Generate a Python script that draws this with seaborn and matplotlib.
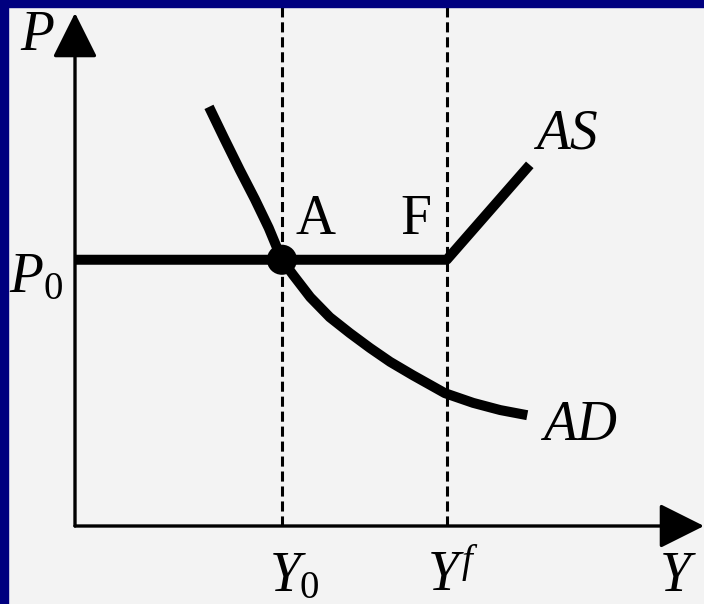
import numpy as np
import pandas as pd
import matplotlib
matplotlib.use("Agg")
import matplotlib.pyplot as plt
import seaborn as sns
from matplotlib.patches import Rectangle

# values (Y on 0..10, P on 0..10)
y0 = 3.29
yf = 5.91
p0 = 5.19

# aggregate demand curve
ad_y = [2.13, 2.37, 2.62, 2.86, 3.08, 3.29, 3.47, 3.74, 4.05, 4.37,
        4.69, 5.01, 5.37, 5.88, 6.33, 6.76, 7.19]
ad_p = [8.17, 7.56, 6.94, 6.37, 5.81, 5.19, 4.89, 4.46, 4.07, 3.76,
        3.47, 3.20, 2.94, 2.59, 2.40, 2.26, 2.16]

# aggregate supply: flat at P0 up to Yf, then rising
as_y = [0.0, yf, 7.23]
as_p = [p0, p0, 7.04]

ad = pd.DataFrame({"Y": ad_y, "P": ad_p})
as_df = pd.DataFrame({"Y": as_y, "P": as_p})
eq = pd.DataFrame({"Y": [y0], "P": [p0]})

sns.set_theme(style="white")
plt.rcParams["font.family"] = ["Liberation Serif", "DejaVu Serif"]
plt.rcParams["mathtext.fontset"] = "custom"
plt.rcParams["mathtext.rm"] = "Liberation Serif"
plt.rcParams["mathtext.it"] = "Liberation Serif:italic"
plt.rcParams["text.color"] = "black"

bg = "#f3f3f3"
fig = plt.figure(figsize=(7.04, 6.04), dpi=100, facecolor=bg)
ax = fig.add_axes([75 / 704, 78 / 604, 629 / 704, 513 / 604])
ax.set_facecolor(bg)
ax.set_xlim(0, 10)
ax.set_ylim(0, 10)
ax.axis("off")

# dashed guides at Y0 and Yf
ax.vlines([y0, yf], 0, 10.12, colors="black", lw=2.2,
          linestyles=[(0, (3.3, 1.6))], clip_on=False, zorder=1)

# axes with arrow heads
arrow = dict(arrowstyle="-|>,head_length=0.4,head_width=0.2", mutation_scale=70,
             lw=2.4, color="black", shrinkA=0, shrinkB=0)
ax.annotate("", xy=(10, 0), xytext=(0, 0), arrowprops=arrow, annotation_clip=False)
ax.annotate("", xy=(0, 10), xytext=(0, 0), arrowprops=arrow, annotation_clip=False)

sns.lineplot(data=as_df, x="Y", y="P", sort=False, color="black", lw=7.2,
             solid_capstyle="butt", ax=ax, zorder=3)
sns.lineplot(data=ad, x="Y", y="P", sort=False, color="black", lw=7.2,
             solid_capstyle="butt", solid_joinstyle="round", ax=ax, zorder=3)
sns.scatterplot(data=eq, x="Y", y="P", color="black", s=470, edgecolor="none",
                ax=ax, zorder=4)
ax.set_xlabel("")
ax.set_ylabel("")

fs = 40
ax.text(-0.60, 9.55, "P", style="italic", fontsize=fs, ha="center", va="center")
ax.text(-0.62, p0 - 0.35, "$P_0$", fontsize=fs, ha="center", va="center")
ax.text(y0 + 0.54, p0 + 0.77, "A", fontsize=fs, ha="center", va="center")
ax.text(yf - 0.49, p0 + 0.77, "F", fontsize=fs, ha="center", va="center")
ax.text(7.82, 7.64, "AS", style="italic", fontsize=fs, ha="center", va="center")
ax.text(8.03, 1.95, "AD", style="italic", fontsize=fs, ha="center", va="center")
ax.text(y0 + 0.2, -1.27, "$Y_0$", fontsize=fs, ha="center", va="baseline")
ax.text(yf + 0.1, -1.27, "$Y^f$", fontsize=fs, ha="center", va="baseline")
ax.text(9.54, -1.27, "Y", style="italic", fontsize=fs, ha="center", va="baseline")

# dark blue frame on the left and top
navy = "#00007f"
fig.patches.append(Rectangle((0, 0), 8 / 704, 1, transform=fig.transFigure,
                             color=navy, zorder=10))
fig.patches.append(Rectangle((0, 1 - 7 / 604), 1, 7 / 604, transform=fig.transFigure,
                             color=navy, zorder=10))

fig.savefig("out.png", dpi=100, facecolor=bg)
